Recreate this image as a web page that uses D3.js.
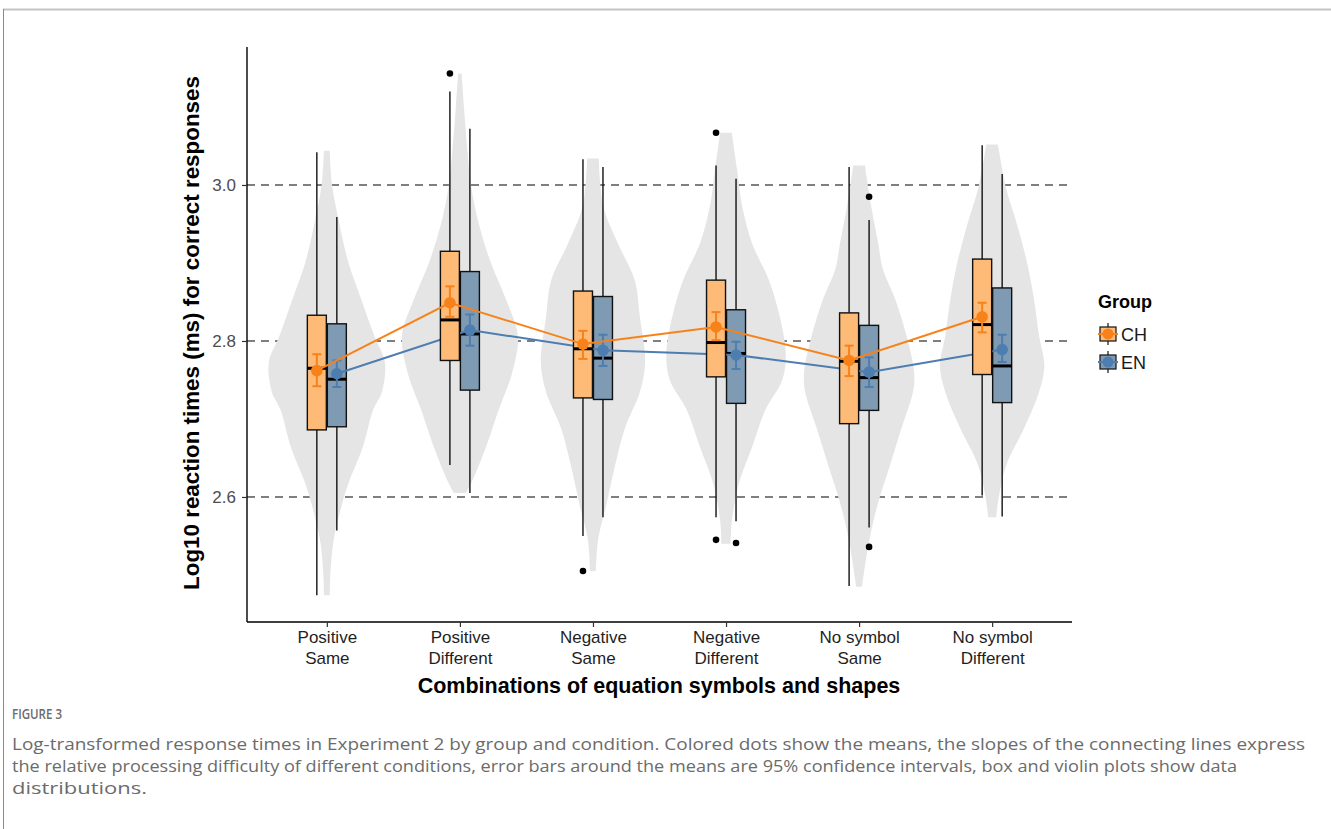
<!DOCTYPE html>
<html>
<head>
<meta charset="utf-8">
<script src="https://cdn.jsdelivr.net/npm/d3@7"></script>
<style>
  body { margin: 0; background: #fff; }
  svg { display: block; }
</style>
</head>
<body>
<div id="chart"></div>
<script>
// ---- data ----
const categoryTop = ["Positive", "Positive", "Negative", "Negative", "No symbol", "No symbol"];
const categoryBottom = ["Same", "Different", "Same", "Different", "Same", "Different"];
const groups = ["CH", "EN"];

// box stats: [lower whisker, q1, median, q3, upper whisker]
const chBox = [
  [2.474, 2.686, 2.765, 2.833, 3.042],
  [2.641, 2.775, 2.827, 2.915, 3.120],
  [2.550, 2.727, 2.790, 2.864, 3.033],
  [2.574, 2.754, 2.798, 2.878, 3.025],
  [2.486, 2.694, 2.774, 2.836, 3.023],
  [2.602, 2.757, 2.821, 2.905, 3.051]
];
const enBox = [
  [2.557, 2.690, 2.751, 2.822, 2.959],
  [2.605, 2.737, 2.809, 2.889, 3.072],
  [2.574, 2.725, 2.778, 2.857, 3.023],
  [2.569, 2.720, 2.784, 2.840, 3.008],
  [2.561, 2.711, 2.753, 2.820, 2.955],
  [2.575, 2.721, 2.768, 2.868, 3.014]
];
const chOutliers = [[], [3.143], [2.505], [3.067, 2.545], [], []];
const enOutliers = [[], [], [], [2.541], [2.985, 2.536], []];

const chMean = [2.762, 2.849, 2.796, 2.818, 2.775, 2.831];
const chLow  = [2.742, 2.831, 2.777, 2.801, 2.755, 2.811];
const chHigh = [2.783, 2.870, 2.813, 2.837, 2.794, 2.849];
const enMean = [2.758, 2.814, 2.788, 2.782, 2.760, 2.789];
const enLow  = [2.741, 2.794, 2.768, 2.764, 2.741, 2.773];
const enHigh = [2.775, 2.834, 2.808, 2.799, 2.779, 2.808];

// violin outlines: values and relative half-width at each value
const violinValues = [
  [3.044, 3.000, 2.949, 2.901, 2.854, 2.806, 2.773, 2.735, 2.712, 2.664, 2.617, 2.593, 2.546, 2.500, 2.474],
  [3.143, 3.100, 3.044, 3.000, 2.949, 2.901, 2.854, 2.806, 2.759, 2.712, 2.664, 2.617, 2.605],
  [3.034, 2.972, 2.925, 2.878, 2.830, 2.773, 2.735, 2.688, 2.640, 2.593, 2.546, 2.505],
  [3.067, 3.020, 2.972, 2.925, 2.878, 2.830, 2.783, 2.750, 2.712, 2.664, 2.617, 2.569, 2.540],
  [3.025, 2.972, 2.925, 2.892, 2.854, 2.806, 2.759, 2.735, 2.688, 2.640, 2.593, 2.546, 2.485],
  [3.052, 2.996, 2.949, 2.901, 2.854, 2.806, 2.768, 2.735, 2.688, 2.640, 2.593, 2.574]
];
const violinDensity = [
  [0.05, 0.09, 0.22, 0.37, 0.59, 0.82, 1.00, 0.95, 0.80, 0.62, 0.37, 0.27, 0.12, 0.06, 0.05],
  [0.03, 0.07, 0.13, 0.19, 0.33, 0.53, 0.79, 1.00, 0.90, 0.67, 0.45, 0.19, 0.10],
  [0.10, 0.18, 0.43, 0.72, 0.81, 0.90, 0.81, 0.55, 0.38, 0.24, 0.09, 0.05],
  [0.10, 0.19, 0.28, 0.45, 0.74, 0.93, 1.03, 0.97, 0.68, 0.45, 0.22, 0.10, 0.08],
  [0.10, 0.21, 0.33, 0.41, 0.62, 0.82, 0.95, 0.93, 0.73, 0.53, 0.33, 0.18, 0.05],
  [0.10, 0.24, 0.43, 0.60, 0.72, 0.81, 0.90, 0.81, 0.55, 0.24, 0.10, 0.07]
];
const yTicks = [2.6, 2.8, 3.0];
const captionLines = [
  "Log-transformed response times in Experiment 2 by group and condition. Colored dots show the means, the slopes of the connecting lines express",
  "the relative processing difficulty of different conditions, error bars around the means are 95% confidence intervals, box and violin plots show data",
  "distributions."
];

// ---- layout ----
const W = 1331, H = 829;
const plot = { left: 247, right: 1072, top: 47, bottom: 622 };
const fillBox = { CH: "#FDBB77", EN: "#7F9BB3" };
const lineCol = { CH: "#F8821A", EN: "#4E7DB0" };
const dodge = 10, boxW = 19, violinHalf = 58;
const sansFont = "'Liberation Sans', Arial, sans-serif";
const capFont = "'Open Sans', sans-serif";

const svg = d3.select("#chart").append("svg")
  .attr("width", W).attr("height", H);

svg.append("rect").attr("width", W).attr("height", H).attr("fill", "#fff");

// page frame
svg.append("line").attr("x1", 3).attr("x2", W).attr("y1", 9.5).attr("y2", 9.5)
  .attr("stroke", "#c4c4c4").attr("stroke-width", 2);
svg.append("line").attr("x1", 3.5).attr("x2", 3.5).attr("y1", 9).attr("y2", H)
  .attr("stroke", "#8a8a8a").attr("stroke-width", 1);

const x = d3.scalePoint()
  .domain(d3.range(categoryTop.length))
  .range([plot.left, plot.right])
  .padding(0.6);

const y = d3.scaleLinear()
  .domain([2.4397, 3.1769])
  .range([plot.bottom, plot.top]);

const widthScale = d3.scaleLinear().domain([0, 1]).range([0, violinHalf]);

// dashed reference lines (behind violins)
svg.append("g").selectAll("line")
  .data(yTicks)
  .join("line")
  .attr("x1", plot.left).attr("x2", plot.right)
  .attr("y1", d => y(d)).attr("y2", d => y(d))
  .attr("stroke", "#555").attr("stroke-width", 1.5)
  .attr("stroke-dasharray", "8,6");

// violins
const violinArea = d3.area()
  .y(d => y(d.v))
  .x0(d => d.cx - widthScale(d.w))
  .x1(d => d.cx + widthScale(d.w))
  .curve(d3.curveCatmullRom);

svg.append("g").selectAll("path")
  .data(violinValues.map((vals, i) => vals.map((v, j) => ({ v: v, w: violinDensity[i][j], cx: x(i) }))))
  .join("path")
  .attr("d", violinArea)
  .attr("fill", "#E5E5E5");

// one group = boxes + summary (EN drawn first, CH on top)
function drawGroup(name, box, outliers, mean, low, high, off) {
  const g = svg.append("g");
  const cx = i => x(i) + off;

  g.selectAll(".whisker").data(box).join("line")
    .attr("x1", (d, i) => cx(i)).attr("x2", (d, i) => cx(i))
    .attr("y1", d => y(d[0])).attr("y2", d => y(d[4]))
    .attr("stroke", "#111").attr("stroke-width", 1.4);

  g.selectAll(".box").data(box).join("rect")
    .attr("x", (d, i) => cx(i) - boxW / 2)
    .attr("width", boxW)
    .attr("y", d => y(d[3]))
    .attr("height", d => y(d[1]) - y(d[3]))
    .attr("fill", fillBox[name])
    .attr("stroke", "#111").attr("stroke-width", 1.4);

  g.selectAll(".median").data(box).join("line")
    .attr("x1", (d, i) => cx(i) - boxW / 2).attr("x2", (d, i) => cx(i) + boxW / 2)
    .attr("y1", d => y(d[2])).attr("y2", d => y(d[2]))
    .attr("stroke", "#000").attr("stroke-width", 3);

  outliers.forEach((arr, i) => {
    g.selectAll(null).data(arr).join("circle")
      .attr("cx", cx(i)).attr("cy", d => y(d)).attr("r", 3.3)
      .attr("fill", "#000");
  });

  g.append("path")
    .datum(mean)
    .attr("d", d3.line().x((d, i) => cx(i)).y(d => y(d)))
    .attr("fill", "none")
    .attr("stroke", lineCol[name]).attr("stroke-width", 2);

  const eb = g.selectAll(".eb").data(mean).join("g");
  eb.append("line")
    .attr("x1", (d, i) => cx(i)).attr("x2", (d, i) => cx(i))
    .attr("y1", (d, i) => y(low[i])).attr("y2", (d, i) => y(high[i]));
  eb.append("line")
    .attr("x1", (d, i) => cx(i) - 4.5).attr("x2", (d, i) => cx(i) + 4.5)
    .attr("y1", (d, i) => y(low[i])).attr("y2", (d, i) => y(low[i]));
  eb.append("line")
    .attr("x1", (d, i) => cx(i) - 4.5).attr("x2", (d, i) => cx(i) + 4.5)
    .attr("y1", (d, i) => y(high[i])).attr("y2", (d, i) => y(high[i]));
  eb.selectAll("line").attr("stroke", lineCol[name]).attr("stroke-width", 2);

  g.selectAll(".mean").data(mean).join("circle")
    .attr("cx", (d, i) => cx(i)).attr("cy", d => y(d)).attr("r", 5.8)
    .attr("fill", lineCol[name]);
}

drawGroup("EN", enBox, enOutliers, enMean, enLow, enHigh, dodge);
drawGroup("CH", chBox, chOutliers, chMean, chLow, chHigh, -dodge);

// axes
const yAxis = svg.append("g")
  .attr("transform", `translate(${plot.left},0)`)
  .call(d3.axisLeft(y).tickValues(yTicks).tickFormat(d3.format(".1f")).tickSize(5).tickPadding(6));
yAxis.select(".domain").attr("d", `M0,${plot.top}V${plot.bottom}`);

const xAxis = svg.append("g")
  .attr("transform", `translate(0,${plot.bottom})`)
  .call(d3.axisBottom(x).tickSize(5).tickFormat(""));
xAxis.select(".domain").attr("d", `M${plot.left},0H${plot.right}`);

[yAxis, xAxis].forEach(a => {
  a.select(".domain").attr("stroke", "#000").attr("stroke-width", 1.4);
  a.selectAll(".tick line").attr("stroke", "#333").attr("stroke-width", 1.2);
  a.selectAll(".tick text").attr("fill", "#4D4D4D")
    .style("font-family", sansFont).style("font-size", "17px");
});

xAxis.selectAll(".tick").each(function (d) {
  const t = d3.select(this).select("text")
    .attr("y", 0).attr("dy", null)
    .attr("fill", "#1f1f1f");
  t.append("tspan").attr("x", 0).attr("y", 21).text(categoryTop[d]);
  t.append("tspan").attr("x", 0).attr("y", 42).text(categoryBottom[d]);
});

// axis titles
svg.append("text")
  .attr("x", 659).attr("y", 693)
  .attr("text-anchor", "middle")
  .style("font-family", sansFont).style("font-size", "21.5px").style("font-weight", "bold")
  .text("Combinations of equation symbols and shapes");

svg.append("text")
  .attr("transform", `translate(199,333) rotate(-90)`)
  .attr("text-anchor", "middle")
  .style("font-family", sansFont).style("font-size", "22.4px").style("font-weight", "bold")
  .text("Log10 reaction times (ms) for correct responses");

// legend
const legend = svg.append("g").attr("transform", "translate(1098,0)");
legend.append("text").attr("x", 0).attr("y", 308)
  .style("font-family", sansFont).style("font-size", "18px").style("font-weight", "bold")
  .text("Group");

const keys = legend.selectAll(".key").data(groups).join("g")
  .attr("transform", (d, i) => `translate(10,${334 + i * 28})`);
keys.append("line").attr("y1", -11).attr("y2", 11)
  .attr("stroke", "#111").attr("stroke-width", 1.2);
keys.append("rect").attr("x", -8).attr("y", -7).attr("width", 16).attr("height", 14)
  .attr("fill", d => fillBox[d]).attr("stroke", "#111").attr("stroke-width", 1.2);
keys.append("line").attr("x1", -10).attr("x2", 10)
  .attr("stroke", d => lineCol[d]).attr("stroke-width", 2);
keys.append("circle").attr("r", 5.5).attr("fill", d => lineCol[d]);
keys.append("text").attr("x", 13).attr("y", 6.5)
  .style("font-family", sansFont).style("font-size", "18px").attr("fill", "#1a1a1a")
  .text(d => d);

// caption
svg.append("text").attr("x", 12).attr("y", 719)
  .attr("textLength", 50).attr("lengthAdjust", "spacingAndGlyphs")
  .style("font-family", capFont).style("font-size", "13.5px")
  .style("font-weight", 600).attr("fill", "#6b6b6b")
  .text("FIGURE 3");

const capWidths = [1293, 1225, 135];
svg.append("g").selectAll("text").data(captionLines).join("text")
  .attr("x", 12).attr("y", (d, i) => 750 + i * 22)
  .attr("textLength", (d, i) => capWidths[i]).attr("lengthAdjust", "spacingAndGlyphs")
  .style("font-family", capFont).style("font-size", "16px")
  .attr("fill", "#6b6b6b")
  .text(d => d);
</script>
</body>
</html>
